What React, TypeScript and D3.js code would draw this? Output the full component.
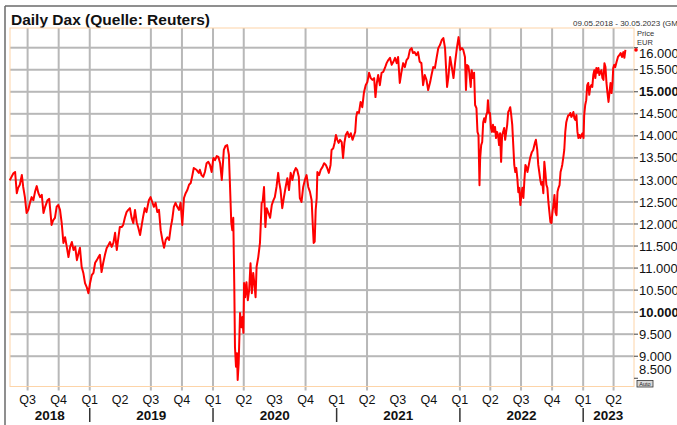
import React from 'react';
import * as d3 from 'd3';

type Point = [string, number];

const series2018: Point[] = [
  ['2018-05-09', 12990], ['2018-05-20', 13150], ['2018-05-25', 13180], ['2018-05-30', 12700], ['2018-06-03', 12820],
  ['2018-06-08', 12890], ['2018-06-14', 13110], ['2018-06-18', 12840], ['2018-06-23', 12610], ['2018-06-28', 12250],
  ['2018-07-03', 12320], ['2018-07-08', 12480], ['2018-07-13', 12610], ['2018-07-18', 12540], ['2018-07-23', 12730],
  ['2018-07-28', 12860], ['2018-08-02', 12700], ['2018-08-07', 12610], ['2018-08-12', 12660], ['2018-08-17', 12250],
  ['2018-08-22', 12390], ['2018-08-29', 12540], ['2018-09-03', 12570], ['2018-09-10', 11980], ['2018-09-15', 12090],
  ['2018-09-20', 12140], ['2018-09-25', 12390], ['2018-09-30', 12430], ['2018-10-05', 12320], ['2018-10-10', 12020],
  ['2018-10-15', 11570], ['2018-10-20', 11700], ['2018-10-25', 11480], ['2018-10-30', 11250], ['2018-11-04', 11480],
  ['2018-11-09', 11590], ['2018-11-14', 11410], ['2018-11-19', 11480], ['2018-11-24', 11180], ['2018-11-29', 11340],
  ['2018-12-03', 11460], ['2018-12-08', 11030], ['2018-12-13', 10890], ['2018-12-18', 10660], ['2018-12-23', 10570],
  ['2018-12-28', 10430],
];

const series2019: Point[] = [
  ['2019-01-02', 10660], ['2019-01-07', 10840], ['2019-01-12', 10890], ['2019-01-17', 11120], ['2019-01-22', 11180],
  ['2019-01-27', 11250], ['2019-01-31', 11300], ['2019-02-05', 10910], ['2019-02-10', 11120], ['2019-02-15', 11300],
  ['2019-02-20', 11450], ['2019-02-25', 11520], ['2019-03-02', 11590], ['2019-03-07', 11480], ['2019-03-12', 11570],
  ['2019-03-17', 11800], ['2019-03-22', 11410], ['2019-03-27', 11700], ['2019-03-31', 11930], ['2019-04-06', 11930],
  ['2019-04-10', 11980], ['2019-04-15', 12140], ['2019-04-20', 12270], ['2019-04-25', 12320], ['2019-04-30', 12360],
  ['2019-05-05', 12140], ['2019-05-10', 12020], ['2019-05-15', 12320], ['2019-05-20', 12040], ['2019-05-25', 11910],
  ['2019-05-30', 11750], ['2019-06-04', 11980], ['2019-06-08', 12160], ['2019-06-13', 12360], ['2019-06-18', 12270],
  ['2019-06-25', 12540], ['2019-06-30', 12610], ['2019-07-05', 12500], ['2019-07-10', 12390], ['2019-07-15', 12480],
  ['2019-07-20', 12270], ['2019-07-25', 12320], ['2019-07-30', 11860], ['2019-08-04', 11640], ['2019-08-09', 11460],
  ['2019-08-14', 11640], ['2019-08-19', 11700], ['2019-08-24', 11640], ['2019-08-29', 11930], ['2019-09-02', 12090],
  ['2019-09-07', 12390], ['2019-09-12', 12480], ['2019-09-17', 12390], ['2019-09-22', 12320], ['2019-09-27', 12480],
  ['2019-10-02', 11980], ['2019-10-07', 12590], ['2019-10-12', 12700], ['2019-10-17', 12770], ['2019-10-22', 12890],
  ['2019-10-27', 12930], ['2019-10-31', 13070], ['2019-11-05', 13270], ['2019-11-13', 13230], ['2019-11-20', 13160],
  ['2019-11-23', 13230], ['2019-11-28', 13110], ['2019-12-03', 13070], ['2019-12-08', 13180], ['2019-12-13', 13380],
  ['2019-12-18', 13410], ['2019-12-23', 13340], ['2019-12-28', 13180],
];

const series2020: Point[] = [
  ['2020-01-02', 13500], ['2020-01-07', 13450], ['2020-01-12', 13540], ['2020-01-17', 13520], ['2020-01-22', 13380],
  ['2020-01-27', 13000], ['2020-01-31', 13450], ['2020-02-02', 13680], ['2020-02-07', 13770], ['2020-02-12', 13790],
  ['2020-02-17', 13570], ['2020-02-20', 12930], ['2020-02-24', 12040], ['2020-02-27', 11860], ['2020-03-01', 12140],
  ['2020-03-04', 10570], ['2020-03-06', 9210], ['2020-03-09', 8760], ['2020-03-12', 9070], ['2020-03-14', 8460],
  ['2020-03-17', 8850], ['2020-03-21', 9980], ['2020-03-25', 9660], ['2020-03-28', 9890], ['2020-03-31', 9530],
  ['2020-04-02', 10660], ['2020-04-05', 10340], ['2020-04-09', 10680], ['2020-04-13', 10270], ['2020-04-17', 10500],
  ['2020-04-21', 11110], ['2020-04-25', 10430], ['2020-04-29', 10890], ['2020-05-02', 10680], ['2020-05-06', 10340],
  ['2020-05-09', 11030], ['2020-05-14', 11250], ['2020-05-19', 11570], ['2020-05-24', 12480], ['2020-05-27', 12500],
  ['2020-05-31', 12840], ['2020-06-04', 11930], ['2020-06-08', 12360], ['2020-06-13', 12250], ['2020-06-18', 12140],
  ['2020-06-23', 12430], ['2020-06-28', 12540], ['2020-07-02', 12610], ['2020-07-07', 12840], ['2020-07-12', 13160],
  ['2020-07-15', 12950], ['2020-07-19', 12770], ['2020-07-24', 12360], ['2020-07-29', 12610], ['2020-08-03', 12840],
  ['2020-08-08', 13040], ['2020-08-13', 12770], ['2020-08-18', 13160], ['2020-08-23', 13000], ['2020-08-28', 13180],
  ['2020-09-02', 13270], ['2020-09-06', 13230], ['2020-09-11', 13070], ['2020-09-14', 12590], ['2020-09-19', 12500],
  ['2020-09-24', 12840], ['2020-09-29', 13000], ['2020-10-04', 13110], ['2020-10-09', 12840], ['2020-10-14', 12730],
  ['2020-10-19', 12540], ['2020-10-22', 12040], ['2020-10-25', 11570], ['2020-10-28', 11600], ['2020-10-31', 12320],
  ['2020-11-03', 12590], ['2020-11-05', 13180], ['2020-11-10', 13110], ['2020-11-15', 13230], ['2020-11-20', 13290],
  ['2020-11-25', 13380], ['2020-11-30', 13340], ['2020-12-04', 13270], ['2020-12-09', 13160], ['2020-12-14', 13340],
  ['2020-12-17', 13680], ['2020-12-22', 13720], ['2020-12-26', 13840], ['2020-12-30', 14020],
];

const series2021: Point[] = [
  ['2021-01-03', 13910], ['2021-01-07', 13840], ['2021-01-11', 13910], ['2021-01-16', 13860], ['2021-01-20', 13500],
  ['2021-01-24', 13840], ['2021-01-28', 14020], ['2021-02-02', 14090], ['2021-02-07', 13970], ['2021-02-12', 14060],
  ['2021-02-17', 13910], ['2021-02-22', 14020], ['2021-02-25', 14090], ['2021-02-28', 14430], ['2021-03-03', 14540],
  ['2021-03-08', 14520], ['2021-03-13', 14770], ['2021-03-18', 14650], ['2021-03-23', 14990], ['2021-03-28', 15150],
  ['2021-04-02', 15220], ['2021-04-07', 15430], ['2021-04-12', 15310], ['2021-04-17', 15270], ['2021-04-22', 15310],
  ['2021-04-26', 14880], ['2021-04-30', 15200], ['2021-05-04', 15380], ['2021-05-09', 15150], ['2021-05-14', 15430],
  ['2021-05-19', 15450], ['2021-05-24', 15540], ['2021-05-29', 15650], ['2021-06-03', 15720], ['2021-06-08', 15770],
  ['2021-06-13', 15610], ['2021-06-18', 15680], ['2021-06-23', 15770], ['2021-06-28', 15650], ['2021-07-02', 15790],
  ['2021-07-07', 15200], ['2021-07-12', 15450], ['2021-07-17', 15650], ['2021-07-22', 15560], ['2021-07-27', 15720],
  ['2021-08-01', 15770], ['2021-08-06', 15950], ['2021-08-11', 15990], ['2021-08-15', 15880], ['2021-08-20', 15900],
  ['2021-08-25', 15830], ['2021-08-30', 15900], ['2021-09-04', 15680], ['2021-09-09', 15650], ['2021-09-14', 15150],
  ['2021-09-19', 15380], ['2021-09-24', 15270], ['2021-09-29', 15040], ['2021-10-05', 15220], ['2021-10-09', 15380],
  ['2021-10-14', 15560], ['2021-10-19', 15540], ['2021-10-24', 15770], ['2021-10-29', 15990], ['2021-11-03', 16060],
  ['2021-11-08', 16170], ['2021-11-13', 16220], ['2021-11-18', 15990], ['2021-11-21', 15540], ['2021-11-24', 15110],
  ['2021-11-28', 15340], ['2021-12-03', 15790], ['2021-12-08', 15560], ['2021-12-13', 15310], ['2021-12-18', 15680],
  ['2021-12-23', 15990], ['2021-12-28', 16240], ['2021-12-31', 16060],
];

const series2022: Point[] = [
  ['2022-01-02', 15950], ['2022-01-07', 15990], ['2022-01-11', 15950], ['2022-01-16', 15790], ['2022-01-19', 15040],
  ['2022-01-22', 15610], ['2022-01-26', 15580], ['2022-01-29', 15430], ['2022-02-02', 15110], ['2022-02-05', 15490],
  ['2022-02-08', 15310], ['2022-02-12', 15430], ['2022-02-15', 14700], ['2022-02-19', 14630], ['2022-02-22', 14090],
  ['2022-02-25', 14020], ['2022-02-28', 12880], ['2022-03-02', 13500], ['2022-03-05', 13790], ['2022-03-08', 13860],
  ['2022-03-11', 14310], ['2022-03-14', 14400], ['2022-03-17', 14310], ['2022-03-20', 14470], ['2022-03-23', 14540],
  ['2022-03-25', 14810], ['2022-03-28', 14520], ['2022-03-31', 14520], ['2022-04-03', 14180], ['2022-04-06', 14090],
  ['2022-04-09', 14250], ['2022-04-12', 14090], ['2022-04-15', 14200], ['2022-04-18', 13950], ['2022-04-21', 14090],
  ['2022-04-24', 14020], ['2022-04-27', 13790], ['2022-04-30', 14060], ['2022-05-03', 13410], ['2022-05-06', 14020],
  ['2022-05-09', 14090], ['2022-05-12', 14180], ['2022-05-15', 13910], ['2022-05-18', 14090], ['2022-05-21', 14250],
  ['2022-05-24', 14540], ['2022-05-27', 14590], ['2022-05-30', 14650], ['2022-06-02', 14470], ['2022-06-05', 14250],
  ['2022-06-08', 13790], ['2022-06-11', 13340], ['2022-06-14', 13180], ['2022-06-17', 13270], ['2022-06-20', 13040],
  ['2022-06-23', 12720], ['2022-06-26', 12820], ['2022-06-29', 12430], ['2022-07-02', 12660], ['2022-07-05', 12820],
  ['2022-07-08', 12590], ['2022-07-11', 13000], ['2022-07-14', 13340], ['2022-07-17', 13290], ['2022-07-20', 13180],
  ['2022-07-24', 13340], ['2022-07-28', 13500], ['2022-08-02', 13630], ['2022-08-06', 13680], ['2022-08-11', 13840],
  ['2022-08-14', 13910], ['2022-08-18', 13680], ['2022-08-21', 13340], ['2022-08-24', 13180], ['2022-08-27', 13000],
  ['2022-08-30', 12890], ['2022-09-02', 12950], ['2022-09-05', 12700], ['2022-09-08', 13410], ['2022-09-11', 13180],
  ['2022-09-14', 12890], ['2022-09-17', 12820], ['2022-09-20', 12500], ['2022-09-23', 12270], ['2022-09-26', 12040],
  ['2022-09-29', 12020], ['2022-10-02', 12270], ['2022-10-05', 12430], ['2022-10-08', 12660], ['2022-10-11', 12270],
  ['2022-10-14', 12200], ['2022-10-17', 12730], ['2022-10-20', 12820], ['2022-10-23', 12880], ['2022-10-26', 13180],
  ['2022-10-29', 13270], ['2022-10-31', 13340], ['2022-11-03', 13500], ['2022-11-06', 13680], ['2022-11-09', 14090],
  ['2022-11-12', 14310], ['2022-11-15', 14400], ['2022-11-18', 14470], ['2022-11-21', 14470], ['2022-11-24', 14520],
  ['2022-11-27', 14430], ['2022-11-30', 14470], ['2022-12-03', 14540], ['2022-12-06', 14400], ['2022-12-09', 14360],
  ['2022-12-12', 14470], ['2022-12-15', 14090], ['2022-12-18', 13950], ['2022-12-21', 14020], ['2022-12-24', 13950],
  ['2022-12-27', 14020], ['2022-12-30', 14060],
];

const series2023: Point[] = [
  ['2023-01-02', 13950], ['2023-01-04', 14470], ['2023-01-07', 14700], ['2023-01-10', 14810], ['2023-01-13', 15150],
  ['2023-01-16', 15200], ['2023-01-19', 14930], ['2023-01-22', 15110], ['2023-01-25', 15150], ['2023-01-28', 15110],
  ['2023-01-31', 15380], ['2023-02-03', 15490], ['2023-02-06', 15310], ['2023-02-09', 15540], ['2023-02-12', 15430],
  ['2023-02-15', 15540], ['2023-02-18', 15380], ['2023-02-21', 15450], ['2023-02-24', 15490], ['2023-02-27', 15310],
  ['2023-03-02', 15270], ['2023-03-05', 15650], ['2023-03-08', 15560], ['2023-03-11', 15200], ['2023-03-14', 14970],
  ['2023-03-17', 14770], ['2023-03-20', 14990], ['2023-03-23', 15200], ['2023-03-26', 14970], ['2023-03-29', 15220],
  ['2023-03-31', 15540], ['2023-04-03', 15610], ['2023-04-06', 15560], ['2023-04-10', 15680], ['2023-04-14', 15790],
  ['2023-04-18', 15830], ['2023-04-22', 15880], ['2023-04-26', 15790], ['2023-04-30', 15900], ['2023-05-03', 15770],
  ['2023-05-06', 15950],
];

const yTicks = [8500, 9000, 9500, 10000, 10500, 11000, 11500, 12000, 12500, 13000, 13500, 14000, 14500, 15000, 15500, 16000];
const yGrid = [9000, 9500, 10000, 10500, 11000, 11500, 12000, 12500, 13000, 13500, 14000, 14500, 15000, 15500, 16000];
const boldTicks = [10000, 15000];
const quarterTicks = [
  '2018-07-01', '2018-10-01',
  '2019-01-01', '2019-04-01', '2019-07-01', '2019-10-01',
  '2020-01-01', '2020-04-01', '2020-07-01', '2020-10-01',
  '2021-01-01', '2021-04-01', '2021-07-01', '2021-10-01',
  '2022-01-01', '2022-04-01', '2022-07-01', '2022-10-01',
  '2023-01-01', '2023-04-01',
];
// the source chart leaves out some of the quarter grid lines
const quarterGrid = [
  '2018-07-01', '2018-10-01', '2019-01-01', '2019-07-01', '2019-10-01', '2020-01-01', '2020-04-01',
  '2020-10-01', '2021-04-01', '2022-01-01', '2022-04-01', '2022-07-01', '2022-10-01', '2023-01-01', '2023-04-01',
];
const years = ['2018', '2019', '2020', '2021', '2022', '2023'];
const dateRange = ['2018-05-09', '2023-05-30'];

const FONT = "'Liberation Sans', Arial, Helvetica, sans-serif";
const GRID = '#b8b8b8';
const W = 677;
const H = 425;
const plot = { left: 10, right: 634, top: 28, bottom: 386.5 };

const parse = (s: string) => d3.utcParse('%Y-%m-%d')(s) as Date;

export default function App() {
  const data = [...series2018, ...series2019, ...series2020, ...series2021, ...series2022, ...series2023].map(
    ([d, v]) => ({ date: parse(d), value: v })
  );
  const start = parse(dateRange[0]);
  const end = parse(dateRange[1]);

  const x = d3.scaleUtc().domain([start, end]).range([9.7, 633.5]);
  const y = d3.scaleLinear().domain([8313, 16447]).range([plot.bottom, plot.top]);

  const line = d3.line<{ date: Date; value: number }>().x((d) => x(d.date)).y((d) => y(d.value));
  const de = d3.formatLocale({ decimal: ',', thousands: '.', grouping: [3], currency: ['', ' €'] });
  const fmt = de.format(',');
  const dfmt = d3.utcFormat('%d.%m.%Y');
  const nudge: Record<number, number> = { 16000: 5.5, 8500: -9 };
  const last = data[data.length - 1];

  const yearSpans = years.map((yr) => {
    const from = parse(`${yr}-01-01`);
    const next = parse(`${+yr + 1}-01-01`);
    const a = from < start ? start : from;
    const b = next > end ? end : next;
    return { yr, from, mid: (x(a) + x(b)) / 2 };
  });

  // grid as thin rects
  const hGrid = yGrid.map((t) => ({ key: `h${t}`, x: plot.left, y: y(t) - 1, w: plot.right - plot.left, h: 2 }));
  const vGrid = quarterGrid.map((q) => {
    const xp = x(parse(q));
    return { key: `v${q}`, x: xp - 1, y: plot.top, w: 2, h: plot.bottom + 4 - plot.top };
  });

  return (
    <svg width={W} height={H} style={{ position: 'absolute', left: 0, top: 0, display: 'block' }}>
      <rect x={0} y={0} width={W} height={H} fill="#ffffff" />

      {/* outer frame */}
      <line x1={5} x2={W} y1={6} y2={6} stroke="#6a6a6a" strokeWidth={1.5} />
      <line x1={5} x2={5} y1={6} y2={H} stroke="#6a6a6a" strokeWidth={1.5} />

      <text x={11} y={24.5} fontFamily={FONT} fontSize={15.5} fontWeight="bold" fill="#111">
        Daily Dax (Quelle: Reuters)
      </text>
      <text x={573} y={26} fontFamily={FONT} fontSize={8} fill="#333">
        {`${dfmt(start)} - ${dfmt(end)} (GMT)`}
      </text>

      {/* grid */}
      {[...hGrid, ...vGrid].map((g) => (
        <rect key={g.key} x={g.x} y={g.y} width={g.w} height={g.h} fill={GRID} />
      ))}

      <rect
        x={plot.left}
        y={plot.top}
        width={plot.right - plot.left}
        height={plot.bottom - plot.top}
        fill="none"
        stroke="#fdd4a8"
        strokeWidth={1}
      />

      <path
        d={line(data) || ''}
        fill="none"
        stroke="#ff0000"
        strokeWidth={2}
        strokeLinejoin="round"
      />
      <circle cx={plot.right + 2} cy={y(last.value)} r={1.8} fill="#ff0000" />

      {/* right axis */}
      {yTicks.map((t) => (
        <g key={`yt${t}`}>
          <line x1={plot.right} x2={plot.right + 4} y1={y(t)} y2={y(t)} stroke="#444" strokeWidth={1} />
          <text
            x={plot.right + 5}
            y={y(t) + 4.6 + (nudge[t] || 0)}
            fontFamily={FONT}
            fontSize={13}
            fontWeight={boldTicks.includes(t) ? 'bold' : 'normal'}
            fill="#111"
          >
            {fmt(t)}
          </text>
        </g>
      ))}

      <text x={637} y={35.5} fontFamily={FONT} fontSize={7.5} fill="#333">Price</text>
      <text x={637} y={45} fontFamily={FONT} fontSize={7.5} fill="#333">EUR</text>

      <rect x={637} y={380.5} width={16} height={6.5} fill="#d8d8d8" stroke="#333" strokeWidth={0.8} />
      <text x={645} y={386} textAnchor="middle" fontFamily={FONT} fontSize={5.5} fill="#222">Auto</text>

      {/* bottom axis */}
      {quarterTicks.map((q) => {
        const d = parse(q);
        return (
          <text key={`q${q}`} x={x(d)} y={403.5} textAnchor="middle" fontFamily={FONT} fontSize={12.5} fill="#111">
            {`Q${Math.floor(d.getUTCMonth() / 3) + 1}`}
          </text>
        );
      })}
      {yearSpans.map((s, i) => (
        <g key={`y${s.yr}`}>
          <text x={s.mid} y={420} textAnchor="middle" fontFamily={FONT} fontSize={13.5} fontWeight="bold" fill="#111">
            {s.yr}
          </text>
          {i > 0 && <rect x={x(s.from) - 0.75} y={408} width={1.5} height={14} fill="#333" />}
        </g>
      ))}
    </svg>
  );
}
